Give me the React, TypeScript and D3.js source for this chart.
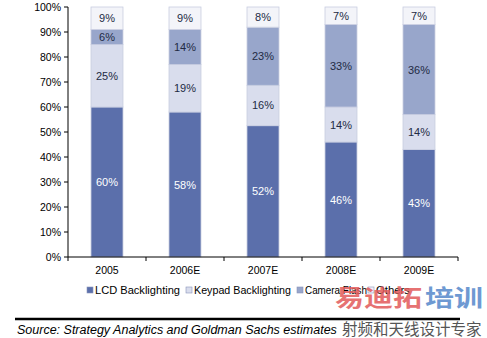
import React from "react";
import * as d3 from "d3";

const categories = ["2005", "2006E", "2007E", "2008E", "2009E"];
const seriesNames = ["LCD Backlighting", "Keypad Backlighting", "Camera Flash", "Others"];
const lcd = [60, 58, 52, 46, 43];
const keypad = [25, 19, 16, 14, 14];
const camera = [6, 14, 23, 33, 36];
const others = [9, 9, 8, 7, 7];
const yTicks = [0, 10, 20, 30, 40, 50, 60, 70, 80, 90, 100];
const colors = ["#5b6fab", "#d9dded", "#98a6cb", "#f3f4f9"];
const labelColors = ["#ffffff", "#222a44", "#222a44", "#222a44"];

export default function App() {
  const W = 487, H = 338;
  const left = 68, right = 458, top = 7, bottom = 257;
  const x = d3.scaleBand().domain(categories).range([left, right]).paddingInner(0.59).paddingOuter(0.295);
  const y = d3.scaleLinear().domain([0, 100]).range([bottom, top]);
  const rows = categories.map((c, i) => {
    const vals = [lcd[i], keypad[i], camera[i], others[i]];
    const sum = d3.sum(vals);
    const o: any = { cat: c };
    seriesNames.forEach((s, j) => (o[s] = (vals[j] / sum) * 100));
    o.raw = vals;
    return o;
  });
  const stack = d3.stack().keys(seriesNames)(rows as any);
  const font = "'Liberation Sans', Arial, sans-serif";
  const step = (right - left) / categories.length;
  const legendX = [87, 186, 297, 368];
  const legendLen = [85, 97, 62, 34];
  return (
    <svg width={W} height={H} style={{ position: "absolute", left: 0, top: 0, background: "#fff" }} fontFamily={font}>
      <rect x={0} y={0} width={W} height={H} fill="#fff" />
      {stack.map((layer, j) => (
        <g key={j}>
          {layer.map((d: any, i: number) => {
            const x0 = x(categories[i])!;
            const y0 = y(d[1]);
            const h = y(d[0]) - y(d[1]);
            return (
              <g key={i}>
                <rect x={x0} y={y0} width={x.bandwidth()} height={h} fill={colors[j]} stroke="#c8cde0" strokeWidth={0.8} />
                <text x={x0 + x.bandwidth() / 2} y={y0 + h / 2 + 4} textAnchor="middle" fontSize={11} fill={labelColors[j]}>
                  {rows[i].raw[j]}%
                </text>
              </g>
            );
          })}
        </g>
      ))}
      <line x1={left} x2={left} y1={top} y2={bottom} stroke="#000" strokeWidth={1} />
      {yTicks.map((t) => (
        <g key={t}>
          <line x1={left - 4} x2={left} y1={y(t)} y2={y(t)} stroke="#000" />
          <text x={left - 7} y={y(t) + 4} textAnchor="end" fontSize={10.5} fill="#000">{t}%</text>
        </g>
      ))}
      <line x1={left} x2={right} y1={bottom} y2={bottom} stroke="#000" />
      {d3.range(categories.length + 1).map((k) => (
        <line key={k} x1={left + k * step} x2={left + k * step} y1={bottom} y2={bottom + 4} stroke="#000" />
      ))}
      {categories.map((c) => (
        <text key={c} x={x(c)! + x.bandwidth() / 2} y={274} textAnchor="middle" fontSize={10.5} fill="#000">{c}</text>
      ))}
      {seriesNames.map((s, j) => (
        <g key={s}>
          <rect x={legendX[j]} y={287} width={6} height={6} fill={colors[j]} stroke="#8a94bb" strokeWidth={0.6} />
          <text x={legendX[j] + 8} y={294} fontSize={11} fill="#000" textLength={legendLen[j]} lengthAdjust="spacingAndGlyphs">{s}</text>
        </g>
      ))}
      <line x1={15} x2={460} y1={319} y2={319} stroke="#000" strokeWidth={2.5} />
      <text x={17} y={334} fontSize={12.5} fontStyle="italic" fill="#000">Source: Strategy Analytics and Goldman Sachs estimates</text>
      <text transform="translate(335,306) scale(1,0.8)" fontSize={29} fontWeight="bold" fontFamily="'Noto Sans CJK SC', sans-serif" fill="#e25a5a" opacity={0.85}>易迪拓</text>
      <text transform="translate(425,306) scale(1,0.8)" fontSize={29} fontWeight="bold" fontFamily="'Noto Sans CJK SC', sans-serif" fill="#5f8fce" opacity={0.9}>培训</text>
      <text x={342} y={335} fontSize={15.5} fontFamily="'Noto Sans CJK SC', sans-serif" fill="#555">射频和天线设计专家</text>
    </svg>
  );
}
